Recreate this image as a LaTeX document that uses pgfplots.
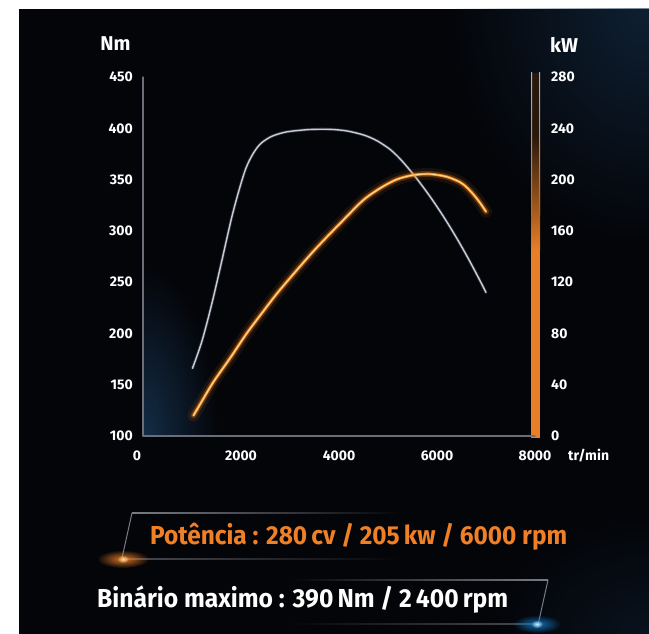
\documentclass[border=0pt]{standalone}
\usepackage{pgfplots}
\pgfplotsset{compat=1.18}
\usepackage{pgfplotstable}
\usepackage{fontspec}
\setmainfont{Fira Sans}
\usetikzlibrary{fadings}

\definecolor{bgdark}{RGB}{4,5,9}
\definecolor{axisgray}{RGB}{105,110,120}
\definecolor{torqueline}{RGB}{200,205,218}
\definecolor{pwrglow}{RGB}{225,115,20}
\definecolor{pwrmain}{RGB}{242,145,45}
\definecolor{pwrcore}{RGB}{255,222,150}
\definecolor{barorange}{RGB}{232,126,40}
\definecolor{bardark}{RGB}{40,24,12}
\definecolor{txtorange}{RGB}{240,128,38}
\definecolor{navy}{RGB}{22,50,78}
\definecolor{decogray}{RGB}{120,124,132}

\tikzfading[name=radglow, inner color=transparent!0, outer color=transparent!100]

% torque, Nm
\pgfplotstableread{
rpm  nm
1010 166
1200 192
1400 228
1600 269
1800 311
1950 338
2100 361
2250 375.5
2400 385
2600 391.5
2800 395
3000 397
3400 398.8
3800 399
4150 397.5
4500 393.5
4770 388
5040 379.5
5250 370
5450 359
5650 347
5850 334
6050 320
6250 305
6450 289
6650 272
6850 254
7000 240
}\torque

% power, kW
\pgfplotstableread{
rpm  kw
1030 16
1200 27
1435 42
1800 62
2116 80
2450 97
2796 114
3476 144
4088 168.4
4496 184
4837 193.2
5177 200.1
5517 203.5
5857 204.3
6198 202.2
6469 198.0
6605 194.0
6741 188.5
6870 182.3
7000 175
}\power

\begin{document}
\begin{tikzpicture}[x=1pt,y=1pt]
% background (1pt = 1px of the reference, origin at the axis corner)
\fill[white] (-143,-198) rectangle (506,436);
\fill[bgdark] (-124,-198) rectangle (506,427);
\begin{scope}
\clip (-124,-198) rectangle (506,427);
\fill[navy, opacity=0.6, path fading=radglow] (506,430) ellipse (200 and 240);
\fill[navy, opacity=0.3, path fading=radglow] (506,-198) ellipse (160 and 120);
\end{scope}
\begin{scope}
\clip (0,0) rectangle (120,200);
\fill[navy, opacity=0.9, path fading=radglow] (0,0) ellipse (75 and 170);
\end{scope}

% right-hand bar
\fill[barorange] (388,-2) rectangle (397,186);
\shade[bottom color=barorange, top color=bardark] (388,186) rectangle (397,300);
\fill[bardark] (388,300) rectangle (397,363);
\shade[bottom color=barorange!80!black, top color=gray!60] (388,220) rectangle (389,363);
\shade[bottom color=barorange!80!black, top color=gray!60] (396,220) rectangle (397,363);

\begin{axis}[
  at={(0,0)}, anchor=south west,
  scale only axis, width=392pt, height=359pt,
  xmin=0, xmax=8000, ymin=100, ymax=450,
  axis x line*=bottom, axis y line*=left,
  axis line style={draw=axisgray, line width=1.2pt, -},
  xtick={0,2000,4000,6000,8000},
  xticklabels={\makebox[0pt][r]{0\kern2pt},2000,4000,6000,8000},
  ytick={100,150,...,450},
  major tick length=0pt,
  /pgf/number format/assume math mode=true,
  tick label style={font=\fontsize{14}{16}\selectfont\bfseries, text=white},
  xticklabel style={anchor=north, inner sep=0pt, yshift=-15pt},
  yticklabel style={anchor=east, inner sep=0pt, xshift=-10pt},
  line cap=round,
]
\addplot[torqueline!40!bgdark, line width=3pt, smooth, opacity=0.5] table[x=rpm, y=nm] {\torque};
\addplot[torqueline, line width=1.4pt, smooth] table[x=rpm, y=nm] {\torque};
\end{axis}

\begin{axis}[
  at={(0,0)}, anchor=south west,
  scale only axis, width=392pt, height=359pt,
  xmin=0, xmax=8000, ymin=0, ymax=280,
  axis x line=none, axis y line*=right,
  y axis line style={draw=none},
  ytick={0,40,...,280},
  major tick length=0pt,
  /pgf/number format/assume math mode=true,
  tick label style={font=\fontsize{14}{16}\selectfont\bfseries, text=white},
  yticklabel style={anchor=west, inner sep=0pt, xshift=16pt},
  line cap=round, clip=false,
]
\addplot[pwrglow, line width=12pt, smooth, opacity=0.1] table[x=rpm, y=kw] {\power};
\addplot[pwrglow, line width=6pt, smooth, opacity=0.3] table[x=rpm, y=kw] {\power};
\addplot[pwrmain, line width=2.6pt, smooth] table[x=rpm, y=kw] {\power};
\addplot[pwrcore, line width=0.9pt, smooth] table[x=rpm, y=kw] {\power};
\end{axis}

% unit labels
\node[text=white, font=\fontsize{20}{22}\selectfont\bfseries, inner sep=0] at (-27.5,392) {Nm};
\node[text=white, font=\fontsize{20}{22}\selectfont\bfseries, inner sep=0, anchor=west] at (407,391) {kW};
\node[text=white, font=\fontsize{14}{16}\selectfont\bfseries, inner sep=0, anchor=base west] at (425,-25) {tr/min};

% decorative frames
\begin{scope}
\clip (-124,-198) rectangle (506,427);
\shade[left color=decogray, right color=bgdark] (-11,-77.6) rectangle (257,-76.4);
\draw[decogray, line width=1pt] (-11,-77) -- (-21,-122);
\shade[left color=decogray!60!bgdark, right color=bgdark] (-20,-123.5) rectangle (257,-122.5);
\fill[txtorange, opacity=0.9, path fading=radglow] (-20,-123) ellipse (26 and 9);
\fill[pwrcore, path fading=radglow] (-20,-123) ellipse (6 and 4);

\shade[left color=bgdark, right color=decogray] (147,-144.6) rectangle (405,-143.4);
\draw[decogray, line width=1pt] (405,-144) -- (395,-189);
\shade[left color=bgdark, right color=decogray!60!bgdark] (147,-188.5) rectangle (394,-187.5);
\fill[cyan!60!blue, opacity=0.9, path fading=radglow] (394,-188) ellipse (24 and 9);
\fill[cyan!20, path fading=radglow] (394,-188) ellipse (6 and 4);
\end{scope}

% headline figures
\node[anchor=base west, inner sep=0, text=txtorange, font=\fontsize{26}{28}\selectfont\bfseries]
  at (7,-109) {\resizebox{417pt}{\height}{Potência : 280\,cv / 205\,kw / 6000 rpm}};
\node[anchor=base west, inner sep=0, text=white, font=\fontsize{26}{28}\selectfont\bfseries]
  at (-46,-172) {\resizebox{411pt}{\height}{Binário maximo : 390\,Nm / 2\,400\,rpm}};

\pgfresetboundingbox
\path[use as bounding box] (-143,-198) rectangle (506,436);
\end{tikzpicture}
\end{document}
